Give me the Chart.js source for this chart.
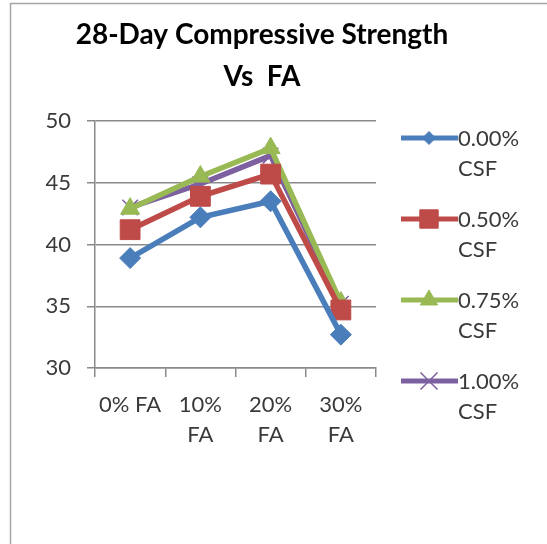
<!DOCTYPE html>
<html>
<head>
<meta charset="utf-8">
<script src="https://cdn.jsdelivr.net/npm/chart.js@4.4.1/dist/chart.umd.min.js"></script>
<style>
  html, body { margin: 0; padding: 0; background: #fff; }
  #wrap { position: relative; width: 547px; height: 544px; }
</style>
</head>
<body>
<div id="wrap"><canvas id="chart" width="547" height="544"></canvas></div>
<script>
const categories = ['0% FA', ['10%', 'FA'], ['20%', 'FA'], ['30%', 'FA']];
const seriesNames = ['0.00%', '0.50%', '0.75%', '1.00%'];
const csf000 = [38.9, 42.2, 43.5, 32.7];
const csf050 = [41.2, 43.9, 45.7, 34.7];
const csf075 = [42.9, 45.5, 47.8, 35.3];
const csf100 = [43.0, 44.9, 47.2, 35.2];
const yTicks = [30, 35, 40, 45, 50];

const FONT = 'Lato, "Open Sans", sans-serif';
const TEXT = '#3a3a3a';
const GRID = '#8a8a8a';

// marker radius on the plot and in the legend
const styles = [
  { color: '#4a7ebb', point: 'rectRot', radius: 10.5, legendRadius: 6.5 },
  { color: '#be4b48', point: 'rect', radius: 14, legendRadius: 13 },
  { color: '#98b954', point: 'triangle', radius: 11, legendRadius: 10 },
  { color: '#7d60a0', point: 'crossRot', radius: 11, legendRadius: 12 },
];

const datasets = [csf000, csf050, csf075, csf100].map((values, i) => ({
  label: seriesNames[i] + ' CSF',
  data: values,
  borderColor: styles[i].color,
  backgroundColor: styles[i].color,
  borderWidth: 5.5,
  pointStyle: styles[i].point,
  pointRadius: styles[i].radius,
  pointBorderWidth: i === 3 ? 1.5 : 1,
  pointBorderColor: styles[i].color,
  tension: 0,
}));

// frame, title and legend drawn by hand (Excel-like two-line legend entries)
const decorations = {
  id: 'decorations',
  afterDraw(chart) {
    const ctx = chart.ctx;
    ctx.save();
    ctx.strokeStyle = '#a6a6a6';
    ctx.lineWidth = 1.5;
    ctx.beginPath();
    ctx.moveTo(10.5, 544);
    ctx.lineTo(10.5, 3.5);
    ctx.lineTo(547, 3.5);
    ctx.stroke();

    ctx.fillStyle = '#000';
    ctx.font = `bold 28px ${FONT}`;
    ctx.textAlign = 'center';
    ctx.textBaseline = 'middle';
    ctx.fillText('28-Day Compressive Strength', 262, 35);
    ctx.fillText('Vs  FA', 262, 77);

    ctx.font = `22px ${FONT}`;
    ctx.textAlign = 'left';
    chart.data.datasets.forEach((ds, i) => {
      const y = 138 + i * 81;
      ctx.strokeStyle = ds.borderColor;
      ctx.lineWidth = 5;
      ctx.beginPath();
      ctx.moveTo(401, y);
      ctx.lineTo(458, y);
      ctx.stroke();
      ctx.fillStyle = ds.borderColor;
      ctx.lineWidth = ds.pointBorderWidth;
      Chart.helpers.drawPoint(ctx, {
        pointStyle: ds.pointStyle,
        radius: styles[i].legendRadius,
        borderWidth: ds.pointBorderWidth,
        rotation: 0,
      }, 429, y);
      ctx.fillStyle = TEXT;
      ctx.fillText(seriesNames[i], 458, y + 1);
      ctx.fillText('CSF', 458, y + 31);
    });
    ctx.restore();
  },
};

new Chart(document.getElementById('chart'), {
  type: 'line',
  data: { labels: categories, datasets },
  plugins: [decorations],
  options: {
    responsive: false,
    animation: false,
    events: [],
    layout: { padding: { left: 45, top: 121, right: 171, bottom: 0 } },
    plugins: {
      legend: { display: false },
      title: { display: false },
      tooltip: { enabled: false },
    },
    scales: {
      x: {
        offset: true,
        border: { color: GRID, width: 1.5 },
        grid: {
          offset: true,
          drawOnChartArea: false,
          drawTicks: true,
          tickLength: 9,
          color: GRID,
          lineWidth: 1.5,
        },
        ticks: {
          color: TEXT,
          font: { family: FONT, size: 22, lineHeight: 1.36 },
          maxRotation: 0,
          autoSkip: false,
          padding: 13,
        },
        afterFit(scale) { scale.height = 176; },
      },
      y: {
        min: 30,
        max: 50,
        afterBuildTicks(scale) { scale.ticks = yTicks.map((v) => ({ value: v })); },
        border: { color: GRID, width: 1.5 },
        grid: { color: GRID, lineWidth: 1.5, tickLength: 8 },
        ticks: {
          color: TEXT,
          font: { family: FONT, size: 22 },
          padding: 16,
        },
        afterFit(scale) { scale.width = 50; },
      },
    },
  },
});
</script>
</body>
</html>
